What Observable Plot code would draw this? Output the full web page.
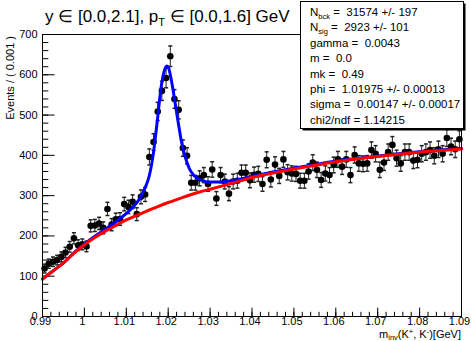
<!DOCTYPE html>
<html><head><meta charset="utf-8">
<script src="https://cdn.jsdelivr.net/npm/d3@7"></script>
<script src="https://cdn.jsdelivr.net/npm/@observablehq/plot@0.6"></script>
<style>
html,body{margin:0;padding:0;background:#fff;}
#chart svg{display:block;font-family:"Liberation Sans",Arial,Helvetica,sans-serif;}
</style></head><body><div id="chart"></div>
<script>
// histogram bin centres (GeV), bin width 0.001
const binCenters = [
0.9905,0.9915,0.9925,0.9935,0.9945,0.9955,0.9965,0.9975,0.9985,0.9995,
1.0005,1.0015,1.0025,1.0035,1.0045,1.0055,1.0065,1.0075,1.0085,1.0095,
1.0105,1.0115,1.0125,1.0135,1.0145,1.0155,1.0165,1.0175,1.0185,1.0195,
1.0205,1.0215,1.0225,1.0235,1.0245,1.0255,1.0265,1.0275,1.0285,1.0295,
1.0305,1.0315,1.0325,1.0335,1.0345,1.0355,1.0365,1.0375,1.0385,1.0395,
1.0405,1.0415,1.0425,1.0435,1.0445,1.0455,1.0465,1.0475,1.0485,1.0495,
1.0505,1.0515,1.0525,1.0535,1.0545,1.0555,1.0565,1.0575,1.0585,1.0595,
1.0605,1.0615,1.0625,1.0635,1.0645,1.0655,1.0665,1.0675,1.0685,1.0695,
1.0705,1.0715,1.0725,1.0735,1.0745,1.0755,1.0765,1.0775,1.0785,1.0795,
1.0805,1.0815,1.0825,1.0835,1.0845,1.0855,1.0865,1.0875,1.0885,1.0895];
const counts = [
119,131,136,140,148,159,173,194,177,179,
174,225,226,231,220,267,228,241,242,279,
272,285,254,297,303,396,433,509,560,592,
646,540,513,418,399,332,332,343,351,329,
365,293,351,335,305,335,337,357,357,338,
352,354,329,389,340,377,349,390,358,355,
354,337,337,360,382,364,339,355,351,376,
390,372,390,351,401,380,379,380,413,404,
364,382,408,426,393,380,408,408,387,389,
404,408,413,399,415,404,443,422,415,440];
const countErrors = [
10.9,11.4,11.7,11.8,12.2,12.6,13.2,13.9,13.3,13.4,
13.2,15.0,15.0,15.2,14.8,16.3,15.1,15.5,15.6,16.7,
16.5,16.9,15.9,17.2,17.4,19.9,20.8,22.6,23.7,24.3,
25.4,23.2,22.6,20.4,20.0,18.2,18.2,18.5,18.7,18.1,
19.1,17.1,18.7,18.3,17.5,18.3,18.4,18.9,18.9,18.4,
18.8,18.8,18.1,19.7,18.4,19.4,18.7,19.7,18.9,18.8,
18.8,18.4,18.4,19.0,19.5,19.1,18.4,18.8,18.7,19.4,
19.7,19.3,19.7,18.7,20.0,19.5,19.5,19.5,20.3,20.1,
19.1,19.5,20.2,20.6,19.8,19.5,20.2,20.2,19.7,19.7,
20.1,20.2,20.3,20.0,20.4,20.1,21.0,20.5,20.4,21.0];
// background fit (red)
const bkgMass = [0.990,0.9925,0.995,0.9975,1.000,1.0025,1.005,1.0075,1.010,1.0125,1.015,1.0175,1.020,1.0225,1.025,1.0275,1.030,1.035,1.040,1.045,1.050,1.055,1.060,1.065,1.070,1.075,1.080,1.085,1.090];
const bkgValues = [93,113,133,157,178,196,212,226,240,251,262,273,283,292,301,309,316,330,345,356,366,375,384,391,397,403,408,412,416];
// total fit (blue)
const totMass = [0.990,0.9925,0.995,0.9975,1.000,1.0025,1.005,1.0075,1.010,1.012,1.0135,1.0145,1.0155,1.0165,1.017,1.0175,1.018,1.0185,1.019,1.0194,1.0197,1.0201,1.0205,1.021,1.0215,1.022,1.0225,1.023,1.0235,1.024,1.025,1.026,1.027,1.028,1.030,1.0325,1.035,1.040,1.045,1.050,1.055,1.060,1.065,1.070,1.075,1.080,1.085,1.090];
const totValues = [93,113,133,158,180,199,217,235,256,276,298,320,350,408,450,495,543,582,607,619,622,617,600,572,540,507,475,443,418,398,368,352,343,338,334,334,337,348,359,368,377,386,392,398,404,409,413,417];
const xTickValues = [0.99,1.00,1.01,1.02,1.03,1.04,1.05,1.06,1.07,1.08,1.09];
const xTickLabels = ["0.99","1","1.01","1.02","1.03","1.04","1.05","1.06","1.07","1.08","1.09"];
const yTickValues = [0,100,200,300,400,500,600,700];
const yTickLabels = ["0","100","200","300","400","500","600","700"];
const titleMain = "y \u2208 [0.0,2.1], p";
const titleSub = "T";
const titleRest = " \u2208 [0.0,1.6] GeV";
const statLines = [
  ["N","bck"," =  31574 +/- 197"],
  ["N","sig"," =  2923 +/- 101"],
  ["gamma =  0.0043","",""],
  ["m =  0.0","",""],
  ["mk =  0.49","",""],
  ["phi =  1.01975 +/- 0.00013","",""],
  ["sigma =  0.00147 +/- 0.00017","",""],
  ["chi2/ndf = 1.14215","",""]
];

const W = 471, H = 341;
const mL = 42, mR = 10, mT = 34, mB = 25;
const plotW = W - mL - mR, plotH = H - mT - mB;

const points = binCenters.map((m, i) => ({m, v: counts[i], e: countErrors[i]}));
const bkg = bkgMass.map((m, i) => ({m, v: bkgValues[i]}));
const tot = totMass.map((m, i) => ({m, v: totValues[i]}));

const xScale = d3.scaleLinear().domain([0.99, 1.09]);
const xMinor = xScale.ticks(50);
const yMinor = d3.ticks(0, 700, 35);

const capSymbol = {draw(ctx, size) { const w = Math.sqrt(size / Math.PI); ctx.moveTo(-w, 0); ctx.lineTo(w, 0); }};

const fontFam = '"Liberation Sans",Arial,Helvetica,sans-serif';

const chart = Plot.plot({
  width: W, height: H,
  marginLeft: mL, marginRight: mR, marginTop: mT, marginBottom: mB,
  style: {fontFamily: fontFam, background: "white", color: "black", overflow: "visible"},
  x: {domain: [0.99, 1.09], axis: null},
  y: {domain: [0, 700], axis: null},
  marks: [
    Plot.ruleX(xMinor, {x: d => d, insetTop: plotH - 4.2, stroke: "black"}),
    Plot.ruleX(xTickValues, {x: d => d, insetTop: plotH - 8.4, stroke: "black"}),
    Plot.ruleY(yMinor, {y: d => d, insetRight: plotW - 6.3, stroke: "black"}),
    Plot.ruleY(yTickValues, {y: d => d, insetRight: plotW - 12.6, stroke: "black"}),
    Plot.text(xTickValues, {x: d => d, text: (d, i) => xTickLabels[i], frameAnchor: "bottom", lineAnchor: "top", dy: 1, dx: -2, fontSize: 11, fill: "black"}),
    Plot.text(yTickValues, {y: d => d, text: (d, i) => yTickLabels[i], frameAnchor: "left", textAnchor: "end", dx: -5, fontSize: 11, fill: "black"}),
    Plot.ruleX(points, {x: "m", y1: d => d.v - d.e, y2: d => d.v + d.e, stroke: "#222"}),
    Plot.dot(points, {x: "m", y: d => d.v + d.e, symbol: capSymbol, r: 2, stroke: "#222", fill: "none"}),
    Plot.dot(points, {x: "m", y: d => d.v - d.e, symbol: capSymbol, r: 2, stroke: "#222", fill: "none"}),
    Plot.dot(points, {x: "m", y: "v", r: 3.3, fill: "black", stroke: "none"}),
    Plot.line(tot, {x: "m", y: "v", stroke: "#0000ff", strokeWidth: 3, curve: "monotone-x"}),
    Plot.line(bkg, {x: "m", y: "v", stroke: "#ff0000", strokeWidth: 3, curve: "monotone-x"}),
    Plot.frame({stroke: "black"})
  ]
});
document.getElementById("chart").appendChild(chart);

const svg = d3.select(chart);
// title
const t = svg.append("text").attr("x", 45).attr("y", 22).attr("text-anchor", "start").attr("font-size", 17).attr("fill", "black").attr("font-family", fontFam);
t.append("tspan").text(titleMain);
t.append("tspan").attr("font-size", 11).attr("dy", 4).text(titleSub);
t.append("tspan").attr("dy", -4).text(titleRest);

// y axis title
svg.append("text").attr("transform", "translate(14,36) rotate(-90)").attr("text-anchor", "end")
  .attr("font-size", 11).attr("fill", "black").attr("font-family", fontFam).text("Events / ( 0.001 )");

// x axis title
const xt = svg.append("text").attr("x", W - mR).attr("y", 338).attr("text-anchor", "end")
  .attr("font-size", 11).attr("fill", "black").attr("font-family", fontFam);
xt.append("tspan").text("m");
xt.append("tspan").attr("font-size", 7.5).attr("dy", 2).text("inv");
xt.append("tspan").attr("dy", -2).text("(K");
xt.append("tspan").attr("font-size", 7.5).attr("dy", -4).text("+");
xt.append("tspan").attr("dy", 4).text(", K");
xt.append("tspan").attr("font-size", 7.5).attr("dy", -4).text("-");
xt.append("tspan").attr("dy", 4).text(")[GeV]");

// stats box
const bx = 300.5, by = 1.5, bw = 163, bh = 127;
svg.append("rect").attr("x", bx + 2).attr("y", by + 2).attr("width", bw).attr("height", bh).attr("fill", "black");
svg.append("rect").attr("x", bx).attr("y", by).attr("width", bw).attr("height", bh).attr("fill", "white").attr("stroke", "black");
statLines.forEach((ln, i) => {
  const tx = svg.append("text").attr("x", 310).attr("y", 16 + i * 15.4).attr("text-anchor", "start").attr("font-size", 11.5)
    .attr("fill", "black").attr("font-family", fontFam);
  tx.append("tspan").text(ln[0]);
  if (ln[1]) {
    tx.append("tspan").attr("font-size", 7.5).attr("dy", 3).text(ln[1]);
    tx.append("tspan").attr("dy", -3).text(ln[2]);
  }
});
</script></body></html>
